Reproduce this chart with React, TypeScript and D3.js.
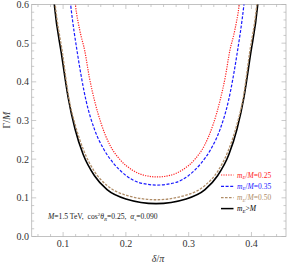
import * as d3 from 'd3';

// Γ/M versus δ/π for several m_E/M
const redDelta = [0.114, 0.1195, 0.127, 0.1344, 0.142, 0.150, 0.161, 0.175, 0.19, 0.21, 0.23, 0.25, 0.27, 0.29, 0.31, 0.325, 0.339, 0.35, 0.358, 0.3656, 0.373, 0.3805, 0.386];
const redGamma = [0.69, 0.6, 0.53, 0.481, 0.41, 0.352, 0.29, 0.235, 0.2, 0.172, 0.158, 0.154, 0.158, 0.172, 0.2, 0.235, 0.29, 0.352, 0.41, 0.481, 0.53, 0.6, 0.69];

const blueDelta = [0.107, 0.112, 0.1232, 0.1365, 0.15, 0.165, 0.18, 0.2, 0.22, 0.25, 0.28, 0.30, 0.32, 0.335, 0.35, 0.3635, 0.3768, 0.388, 0.393];
const blueGamma = [0.68, 0.6, 0.47, 0.352, 0.277, 0.225, 0.19, 0.158, 0.14, 0.133, 0.14, 0.158, 0.19, 0.225, 0.277, 0.352, 0.47, 0.6, 0.68];

const brownDelta = [0.082, 0.0875, 0.099, 0.109, 0.12, 0.133, 0.15, 0.17, 0.20, 0.248, 0.296, 0.326, 0.346, 0.363, 0.376, 0.387, 0.397, 0.4085, 0.414];
const brownGamma = [0.7, 0.6, 0.475, 0.36, 0.285, 0.222, 0.168, 0.132, 0.107, 0.095, 0.107, 0.132, 0.168, 0.222, 0.285, 0.36, 0.475, 0.6, 0.7];

const blackDelta = [0.08, 0.086, 0.0978, 0.108, 0.119, 0.132, 0.15, 0.17, 0.20, 0.248, 0.296, 0.326, 0.346, 0.364, 0.377, 0.388, 0.3982, 0.41, 0.416];
const blackGamma = [0.72, 0.6, 0.468, 0.36, 0.278, 0.212, 0.157, 0.121, 0.097, 0.085, 0.097, 0.121, 0.157, 0.212, 0.278, 0.36, 0.468, 0.6, 0.72];

const xTicks = [0.1, 0.2, 0.3, 0.4];
const yTicks = [0, 0.1, 0.2, 0.3, 0.4, 0.5, 0.6];
const legendValues = ['0.25', '0.35', '0.50'];

const W = 288;
const H = 265;
const left = 31.7, right = 286, top = 4.5, bottom = 236.5;
const serif = '"Liberation Serif", "DejaVu Serif", serif';
const frameColor = '#b4b4b4';

export default function App() {
  const x = d3.scaleLinear().domain([0.05, 0.455]).range([left, right]);
  const y = d3.scaleLinear().domain([0, 0.6]).range([bottom, top]);

  const line = d3.line<[number, number]>()
    .x(d => x(d[0]))
    .y(d => y(d[1]))
    .curve(d3.curveMonotoneX);

  const zip = (a: number[], b: number[]) => a.map((v, i) => [v, b[i]] as [number, number]);

  const series = [
    { pts: zip(blackDelta, blackGamma), color: '#000000', dash: null, width: 1.6 },
    { pts: zip(brownDelta, brownGamma), color: '#b08d68', dash: '2.6,1.4', width: 1.3 },
    { pts: zip(blueDelta, blueGamma), color: '#1a1aff', dash: '3,1.6', width: 1.2 },
    { pts: zip(redDelta, redGamma), color: '#ff2020', dash: '1.2,1.2', width: 1.2 },
  ];

  const xMinor = d3.range(0.06, 0.455, 0.02).filter(v => !xTicks.some(t => Math.abs(t - v) < 1e-6));
  const yMinor = d3.range(0.02, 0.6, 0.02).filter(v => !yTicks.some(t => Math.abs(t - v) < 1e-6));

  const legend = [
    { color: '#ff2020', dash: '1.2,1.2', width: 1.2, val: legendValues[0] },
    { color: '#1a1aff', dash: '3,1.6', width: 1.2, val: legendValues[1] },
    { color: '#b08d68', dash: '2.6,1.4', width: 1.3, val: legendValues[2] },
    { color: '#000000', dash: null, width: 1.5, val: null },
  ];
  const legendRows = [175, 186.3, 197.6, 208.6];

  return (
    <svg width={W} height={H} style={{ position: 'absolute', left: 0, top: 0, background: '#fff' }}
      fontFamily={serif}>
      <defs>
        <clipPath id="plot">
          <rect x={left} y={top} width={right - left} height={bottom - top} />
        </clipPath>
      </defs>

      {/* frame */}
      <rect x={left} y={top} width={right - left} height={bottom - top} fill="none" stroke={frameColor} strokeWidth={0.8} />

      {/* ticks, inside the frame on all sides */}
      <g stroke={frameColor} strokeWidth={0.7}>
        {xTicks.map(t => (
          <g key={'xt' + t}>
            <line x1={x(t)} x2={x(t)} y1={bottom} y2={bottom - 4.5} />
            <line x1={x(t)} x2={x(t)} y1={top} y2={top + 4.5} />
          </g>
        ))}
        {xMinor.map(t => (
          <g key={'xm' + t}>
            <line x1={x(t)} x2={x(t)} y1={bottom} y2={bottom - 2.5} />
            <line x1={x(t)} x2={x(t)} y1={top} y2={top + 2.5} />
          </g>
        ))}
        {yTicks.map(t => (
          <g key={'yt' + t}>
            <line x1={left} x2={left + 4.5} y1={y(t)} y2={y(t)} />
            <line x1={right} x2={right - 4.5} y1={y(t)} y2={y(t)} />
          </g>
        ))}
        {yMinor.map(t => (
          <g key={'ym' + t}>
            <line x1={left} x2={left + 2.5} y1={y(t)} y2={y(t)} />
            <line x1={right} x2={right - 2.5} y1={y(t)} y2={y(t)} />
          </g>
        ))}
      </g>

      {/* tick labels */}
      <g fontSize={10} fill="#333">
        {xTicks.map(t => (
          <text key={'xl' + t} x={x(t)} y={247} textAnchor="middle">{d3.format('.1f')(t)}</text>
        ))}
        {yTicks.map(t => (
          <text key={'yl' + t} x={29} y={y(t) + 3.4} textAnchor="end">{d3.format('.1f')(t)}</text>
        ))}
      </g>

      {/* axis labels */}
      <text x={158} y={261.5} textAnchor="middle" fontSize={10} fill="#333">
        <tspan fontStyle="italic">δ</tspan>/<tspan fontStyle="italic">π</tspan>
      </text>
      <text transform="translate(10,120) rotate(-90)" textAnchor="middle" fontSize={10} fill="#333">
        Γ/<tspan fontStyle="italic">M</tspan>
      </text>

      {/* curves */}
      <g clipPath="url(#plot)" fill="none">
        {series.map((s, i) => (
          <path key={i} d={line(s.pts) || ''} stroke={s.color} strokeWidth={s.width}
            strokeDasharray={s.dash || undefined} />
        ))}
      </g>

      {/* legend */}
      {legend.map((l, i) => (
        <g key={'lg' + i}>
          <line x1={221} x2={233.5} y1={legendRows[i]} y2={legendRows[i]} stroke={l.color}
            strokeWidth={l.width} strokeDasharray={l.dash || undefined} />
          <text x={237} y={legendRows[i] + 2.6} fontSize={7.5} fill={l.color}>
            <tspan fontStyle="italic">m</tspan>
            <tspan fontSize={5} dy={1.5} fontStyle="italic">E</tspan>
            {l.val !== null ? (
              <tspan dy={-1.5}>/<tspan fontStyle="italic">M</tspan>=<tspan>{l.val}</tspan></tspan>
            ) : (
              <tspan dy={-1.5}>&gt;<tspan fontStyle="italic">M</tspan></tspan>
            )}
          </text>
        </g>
      ))}

      {/* parameters */}
      <text x={48} y={219} fontSize={7.6} fill="#222">
        <tspan fontStyle="italic">M</tspan>=1.5 TeV,{'\u2002'}cos<tspan fontSize={5} dy={-2.8}>2</tspan>
        <tspan dy={2.8} fontStyle="italic">θ</tspan><tspan fontSize={5} dy={1.6} fontStyle="italic">R</tspan>
        <tspan dy={-1.6}>=0.25,{'\u2002'}</tspan><tspan fontStyle="italic">α</tspan>
        <tspan fontSize={5} dy={1.6} fontStyle="italic">s</tspan><tspan dy={-1.6}>=0.090</tspan>
      </text>
    </svg>
  );
}
